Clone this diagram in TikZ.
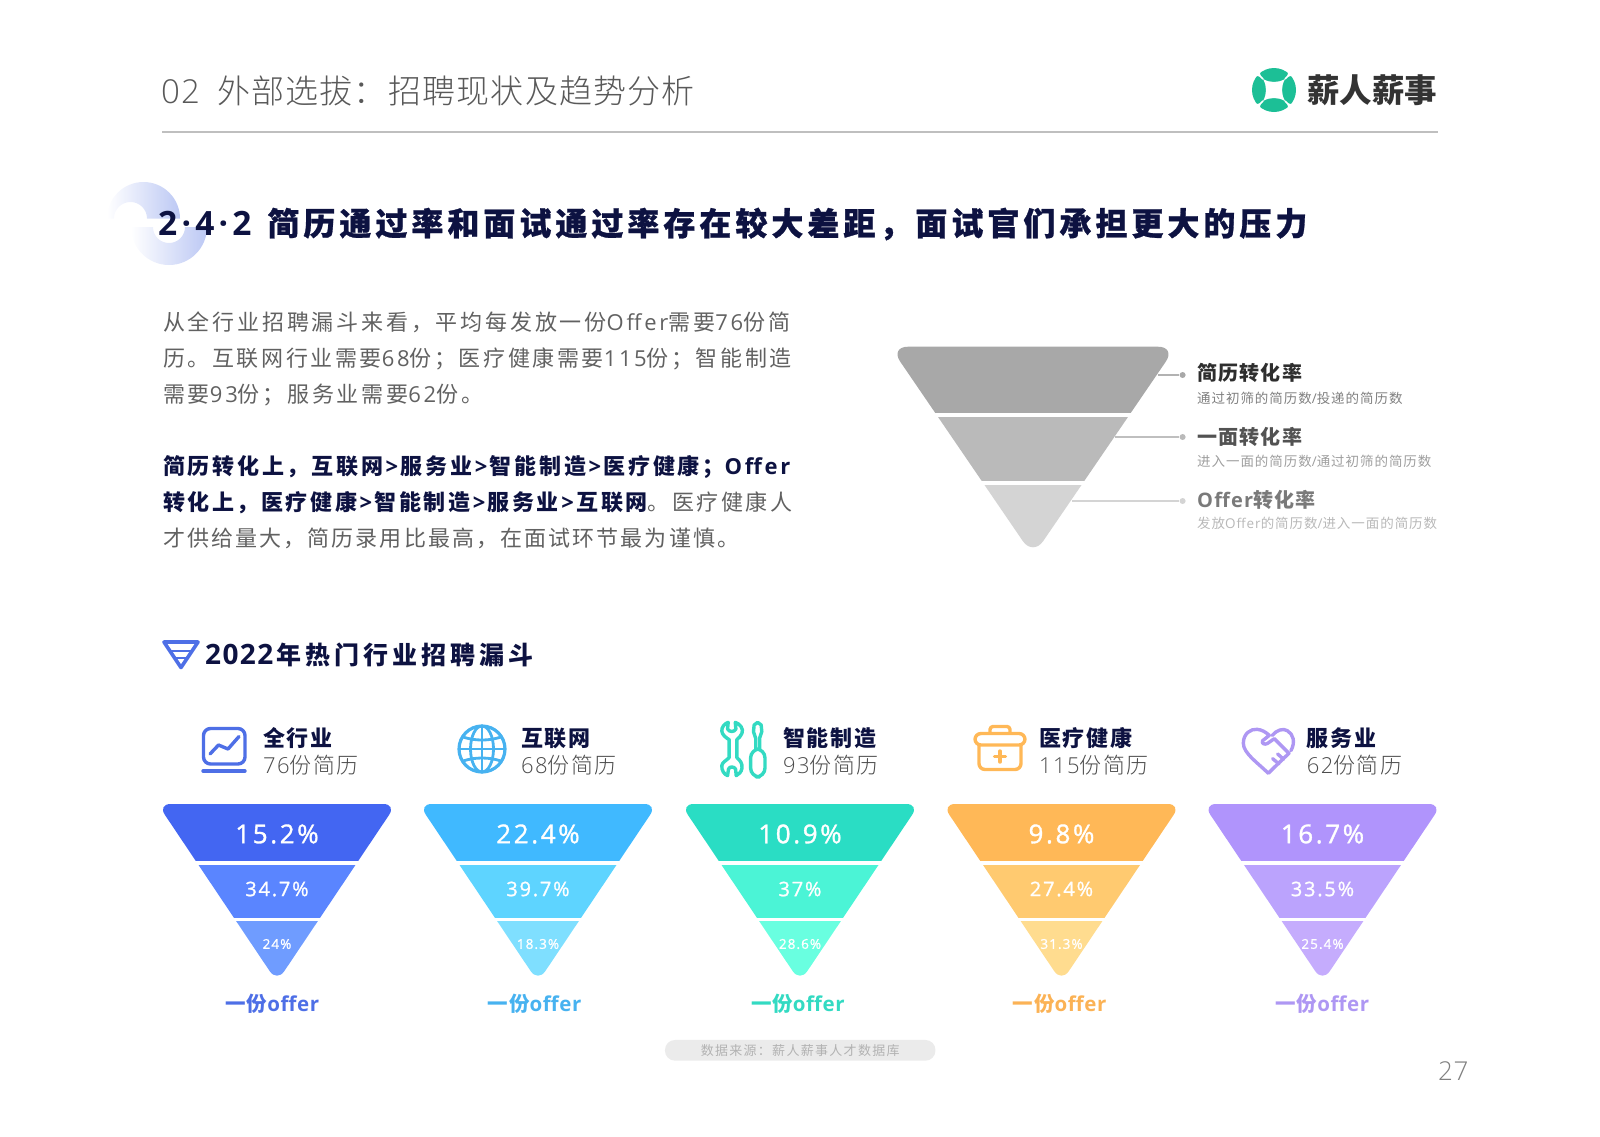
\documentclass[tikz,border=0pt]{standalone}
\usepackage{fontspec}
\usetikzlibrary{calc}
\setmainfont{Noto Sans CJK SC}
\newfontfamily\latinfont{Open Sans}
\newfontfamily\lightcjk{Noto Sans CJK SC Light}
\newfontfamily\lightlatin{Open Sans Light}
\def\myls{0}
\newcommand{\spaced}[1]{\def\myls{#1}\addfontfeature{LetterSpace=#1}}
\newcommand{\la}[1]{{\latinfont\addfontfeature{LetterSpace=\myls}#1}}
\newcommand{\lla}[1]{{\lightlatin\addfontfeature{LetterSpace=\myls}#1}}
\newcommand{\fs}[1]{\fontsize{#1}{#1}\selectfont}
\newcommand{\morethan}{\hspace{2.5pt}\la{>}\hspace{2.5pt}}
\newcommand{\pctnum}[2]{{\latinfont\addfontfeature{LetterSpace=#2,FakeBold=1.2}#1}}
\definecolor{navy}{HTML}{0D1241}
\definecolor{logogreen}{HTML}{1CBF96}
\definecolor{ringblue}{HTML}{BCC8F4}
\definecolor{blueA}{HTML}{4366F2}\definecolor{blueB}{HTML}{5A85FF}\definecolor{blueC}{HTML}{6F9CFF}\definecolor{blueO}{HTML}{4E6FE6}
\definecolor{skyA}{HTML}{40B9FF}\definecolor{skyB}{HTML}{5ED4FF}\definecolor{skyC}{HTML}{7FDFFF}\definecolor{skyO}{HTML}{47B2F0}
\definecolor{tealA}{HTML}{2ADDC4}\definecolor{tealB}{HTML}{4BF4D6}\definecolor{tealC}{HTML}{69FFE0}\definecolor{tealO}{HTML}{33DAC2}
\definecolor{orgA}{HTML}{FFB857}\definecolor{orgB}{HTML}{FFCA70}\definecolor{orgC}{HTML}{FFDC8F}\definecolor{orgO}{HTML}{FBB255}
\definecolor{purA}{HTML}{B094FC}\definecolor{purB}{HTML}{BBA3FD}\definecolor{purC}{HTML}{C5ACFD}\definecolor{purO}{HTML}{AE97F3}
\tikzset{
  txt/.style={anchor=west,inner sep=0pt,align=left},
  bodytext/.style={txt,anchor=north west,text=black!62,font=\fontsize{22}{36}\selectfont},
  ratename/.style={txt,font=\bfseries\fs{20}\spaced{6}},
  ratesub/.style={txt,font=\fs{13.5}\spaced{7}},
  coltitle/.style={txt,text=navy,font=\bfseries\fs{22}\spaced{8}},
  colsub/.style={txt,text=black!70,font=\lightcjk\fs{22}\spaced{6.5}},
  leaddot/.style={circle,inner sep=0pt,minimum size=6pt},
  pct/.style={inner sep=0pt,text=white},
  icon/.style={line width=3.4pt,line cap=round,line join=round},
}
\begin{document}
\begin{tikzpicture}[x=1pt,y=-1pt]
\useasboundingbox (0,0) rectangle (1600,1136);

\node[txt,text=black!65,font=\lightcjk\fs{33}\spaced{3.7}] (pagetitle) at (161,91) {\lla{02}\hspace{17pt}外部选拔：招聘现状及趋势分析};
\draw[black!25,line width=2pt] (162,131.5)--(1438,131.5);

% logo
\fill[logogreen] (1274,90) circle (22);
\fill[white] (1263,79) .. controls (1270,83) and (1278,83) .. (1285,79) .. controls (1281,86) and (1281,94) .. (1285,101) .. controls (1278,97) and (1270,97) .. (1263,101) .. controls (1267,94) and (1267,86) .. (1263,79) -- cycle;
\foreach \a/\b in {1263/79,1285/79,1285/101,1263/101}{
  \draw[white,line width=1.6pt] (\a,\b)--($(\a,\b)!-0.9!(1274,90)$);
  \fill[white] ($(1274,90)!1.2!(\a,\b)$)--($(1274,90)!1.6!9:(\a,\b)$)--($(1274,90)!1.6!-9:(\a,\b)$)--cycle;
}
\node[txt,text=black!80,font=\bfseries\fs{32.5}] (logotext) at (1307,90.5) {薪人薪事};

% ring
\shade[left color=white,right color=ringblue] (107,218.5) arc[start angle=180,end angle=360,radius=36.5] -- (147,218.5) arc[start angle=360,end angle=180,radius=16.5] -- cycle;
\shade[left color=white,right color=ringblue] (207,227) arc[start angle=0,end angle=180,radius=38] -- (153,227) arc[start angle=180,end angle=0,radius=16] -- cycle;

\node[txt,text=navy,font=\bfseries\fs{32}\spaced{12.5}\addfontfeature{FakeBold=0.8}] (sectitle) at (158,224) {{\fs{33.5}\la{2·4·2}}\hspace{16pt}简历通过率和面试通过率存在较大差距，面试官们承担更大的压力};

\node[bodytext] (para1) at (163,312) {{\spaced{12.7}从全行业招聘漏斗来看，平均每发放一份\la{Offer}需要\la{76}份简}\\{\spaced{11.8}历。互联网行业需要\la{68}份；医疗健康需要\la{115}份；智能制造}\\{\spaced{12.5}需要\la{93}份；服务业需要\la{62}份。}};
\node[bodytext] (para2) at (163,455) {{\bfseries\spaced{12.5}\color{navy}简历转化上，互联网\morethan 服务业\morethan 智能制造\morethan 医疗健康；\la{Offer}}\\{\spaced{11.6}{\bfseries\spaced{11.6}\color{navy}转化上，医疗健康\morethan 智能制造\morethan 服务业\morethan 互联网}。医疗健康人}\\{\spaced{9.5}才供给量大，简历录用比最高，在面试环节最为谨慎。}};

% gray funnel
\begin{scope}
\clip[rounded corners=18pt] (890,346.7)--(1176,346.7)--(1033,556)--cycle;
\fill[black!34] (880,340) rectangle (1190,413);
\fill[black!27] (880,417) rectangle (1190,481);
\fill[black!17] (880,485) rectangle (1190,560);
\end{scope}

\node[leaddot,fill=black!34] (dotA) at (1182.6,375) {};
\node[leaddot,fill=black!27] (dotB) at (1182.6,437) {};
\node[leaddot,fill=black!17] (dotC) at (1182.6,501) {};
\coordinate (legA) at (1157.5,375);
\coordinate (legB) at (1115,437);
\coordinate (legC) at (1072,501);
\draw[black!30,line width=1.5pt] (legA)--(dotA);
\draw[black!25,line width=1.5pt] (legB)--(dotB);
\draw[black!17,line width=1.5pt] (legC)--(dotC);

\node[ratename,text=black!82] (rateA) at (1197,373) {简历转化率};
\node[ratesub,text=black!50] (subA) at (1197,398) {通过初筛的简历数\la{/}投递的简历数};
\node[ratename,text=black!68] (rateB) at (1197,437) {一面转化率};
\node[ratesub,text=black!38] (subB) at (1197,461.5) {进入一面的简历数\la{/}通过初筛的简历数};
\node[ratename,text=black!52] (rateC) at (1197,500) {\la{Offer}转化率};
\node[ratesub,text=black!28] (subC) at (1197,523) {发放\la{Offer}的简历数\la{/}进入一面的简历数};

% heading
\draw[blueO,line width=3.6pt,line join=round] (164,642)--(198,642)--(181,667.5)--cycle;
\draw[blueO,line width=2.6pt] (171,651)--(191,651);
\draw[blueO,line width=2.6pt] (175,658)--(187,658);
\node[txt,text=navy,font=\bfseries\fs{25}\spaced{16}] (subhead) at (205,655) {{\fs{28}\def\myls{5}\la{2022}}\hspace{3pt}年热门行业招聘漏斗};

% five funnels
\foreach \x/\ox/\cname/\pa/\pb/\pc [count=\i] in {277/272.5/blue/15.2/34.7/24,538/534.7/sky/22.4/39.7/18.3,800/798/teal/10.9/37/28.6,1061.5/1059.7/org/9.8/27.4/31.3,1322.5/1322.5/pur/16.7/33.5/25.4}{
\begin{scope}[shift={(\x,0)}]
\begin{scope}
\clip[rounded corners=13pt] (-119.4,804)--(119.4,804)--(0,982)--cycle;
\fill[\cname A] (-130,800) rectangle (130,861);
\fill[\cname B] (-130,864.7) rectangle (130,918);
\fill[\cname C] (-130,921.3) rectangle (130,990);
\end{scope}
\node[pct,font=\fs{26}] (pa\i) at (0,834) {\pctnum{\pa\%}{10}};
\node[pct,font=\fs{20}] (pb\i) at (0,889) {\pctnum{\pb\%}{9}};
\node[pct,font=\fs{13.5}] (pc\i) at (0,944) {\pctnum{\pc\%}{8}};
\end{scope}
\node[inner sep=0pt,text=\cname O,font=\bfseries\fs{20.5}\spaced{3}] (offer\i) at (\ox,1004) {一份\la{offer}};
}

\foreach \hx/\htitle/\hnum [count=\i] in {263/全行业/76,521/互联网/68,783/智能制造/93,1039/医疗健康/115,1306.7/服务业/62}{
\node[coltitle] (coltitle\i) at (\hx,738) {\htitle};
\node[colsub] (colsub\i) at (\hx,765.5) {\lla{\hnum}份简历};
}

% chart icon
\draw[blueO,icon,rounded corners=7pt] (203.5,728.5) rectangle (245,764);
\draw[blueO,icon] (210,754)--(218.5,745)--(228,749)--(239,736.5);
\draw[blueO,icon] (203,771)--(245,771);

% globe icon
\draw[skyO,line width=3.2pt] (482,749) circle (23);
\draw[skyO,line width=2.8pt] (482,749) ellipse (11.5 and 23);
\draw[skyO,line width=2.8pt] (482,726)--(482,772);
\draw[skyO,line width=2.8pt] (459,749)--(505,749);
\draw[skyO,line width=2.8pt] (463,737) .. controls (475,741) and (489,741) .. (501,737);
\draw[skyO,line width=2.8pt] (463,761) .. controls (475,757) and (489,757) .. (501,761);

% tool icon
\begin{scope}[shift={(717,715)},x=.32pt,y=-.333pt]
\draw[tealO,icon] (35,22) -- (33,42) .. controls (38,52) and (54,52) .. (59,42) -- (57,22) .. controls (72,26) and (84,42) .. (78,55) .. controls (75,64) and (68,68) .. (62,74) -- (62,128) .. controls (72,136) and (80,145) .. (78,160) .. controls (76,172) and (68,178) .. (60,182) -- (58,162) .. controls (52,154) and (40,154) .. (36,162) -- (33,182) .. controls (22,178) and (14,166) .. (15,152) .. controls (16,142) and (30,136) .. (38,128) -- (38,74) .. controls (28,68) and (16,60) .. (15,48) .. controls (14,36) and (24,26) .. (35,22) -- cycle;
\draw[tealO,icon,rounded corners=9pt] (105,102) rectangle (150,186);
\draw[tealO,icon] (127,22) -- (138,30) -- (140,50) -- (133,70) -- (133,102);
\draw[tealO,icon] (127,22) -- (116,30) -- (114,50) -- (121,70) -- (121,102);
\end{scope}

% box icon
\draw[orgA,icon,rounded corners=3pt] (990,733)--(990,726.5)--(1010,726.5)--(1010,733);
\draw[orgA,icon,rounded corners=6pt] (975,733.5) rectangle (1025,745);
\draw[orgA,icon,rounded corners=6pt] (979,745)--(979,769.5)--(1021,769.5)--(1021,745);
\draw[orgA,icon] (1000,751)--(1000,762);
\draw[orgA,icon] (994.5,756.5)--(1005.5,756.5);

% handshake icon
\begin{scope}[shift={(1235,720)},x=.333pt,y=-.333pt]
\draw[purO,icon] (100,160) .. controls (70,130) and (25,100) .. (25,70) .. controls (25,40) and (48,26) .. (66,28) .. controls (80,29) and (92,36) .. (103,46) -- (83,62) .. controls (78,70) and (90,76) .. (98,70) -- (118,56) -- (162,100) -- (118,142) -- (100,160);
\draw[purO,icon] (112,46) .. controls (125,30) and (145,24) .. (157,32) .. controls (175,42) and (182,66) .. (168,92);
\draw[purO,icon] (128,102) -- (146,118);
\draw[purO,icon] (113,116) -- (132,132);
\end{scope}

\node[fill=black!8,rounded corners=10pt,minimum width=270.5pt,minimum height=20.7pt,inner sep=0pt,text=black!30,font=\fs{13}\spaced{10}] (source) at (800.2,1050.3) {数据来源：薪人薪事人才数据库};
\node[txt,text=black!50,font=\fs{26}\spaced{2}] (pagenum) at (1438,1071) {\lla{27}};
\end{tikzpicture}
\end{document}
